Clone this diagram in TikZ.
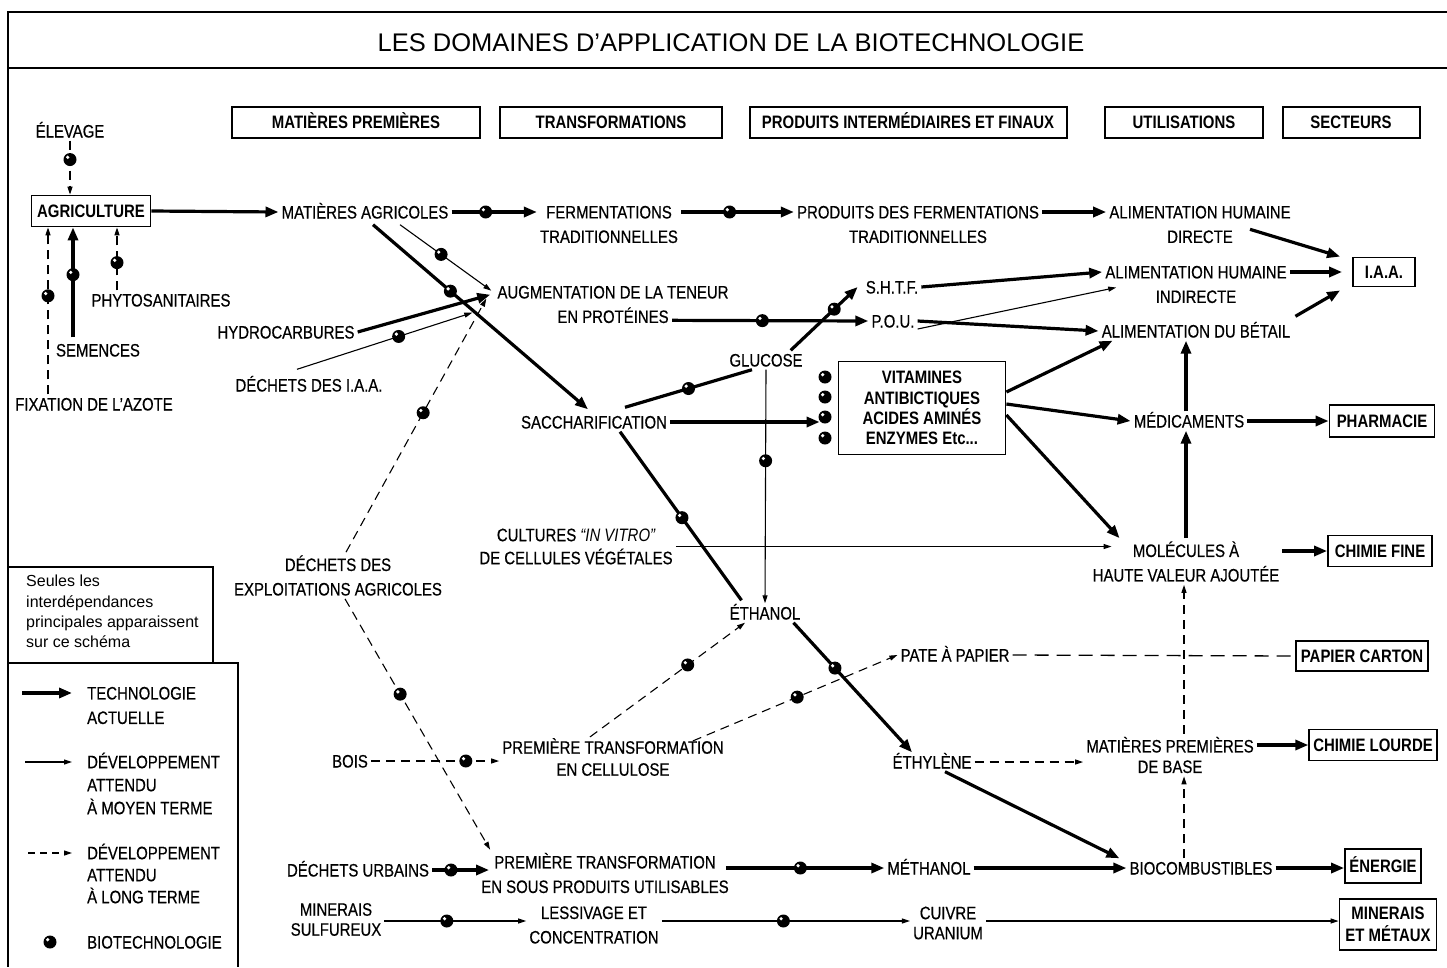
\documentclass[tikz,border=0pt]{standalone}
\usepackage{fontspec}
\setmainfont{Liberation Sans}[FakeStretch=0.83,UprightFeatures={FakeBold=0.5}]
\newfontfamily\plainsans{Liberation Sans}
\usetikzlibrary{arrows.meta,calc}
\begin{document}
\begin{tikzpicture}[x=1pt,y=-1pt,
  every node/.style={font=\fontsize{18pt}{24.5pt}\selectfont},
  lbl/.style={inner sep=3pt,text height=13pt,text depth=0pt},
  lbm/.style={inner sep=3pt,align=center},
  bx/.style={draw,line width=1.8pt,inner sep=4pt,align=center,font=\fontsize{18pt}{21pt}\selectfont\bfseries},
  hdr/.style={draw,line width=2pt,minimum height=31pt,inner sep=2pt,text height=13pt,text depth=0pt,font=\fontsize{18pt}{21pt}\selectfont\bfseries},
  thk/.style={line width=3.2pt,-{Triangle[length=13pt,width=10pt]}},
  thkl/.style={line width=3.2pt},
  thn/.style={line width=1.1pt,-{Triangle[length=8pt,width=5pt]}},
  dsh/.style={line width=1.1pt,dash pattern=on 9pt off 6pt,-{Triangle[length=8pt,width=5pt]}},
  dshl/.style={line width=1.3pt,dash pattern=on 14pt off 8pt},
  bul/.style={circle,fill=black,inner sep=0pt,minimum size=13pt,
    path picture={\fill[white] ([shift={(-2.3pt,2.3pt)}]path picture bounding box.center) circle (1.8pt);}},
  frame/.style={line width=2pt}
]
\useasboundingbox (0,0) rectangle (1447,967);
% frame
\draw[line width=2.6pt] (8,12) -- (1447,12);
\draw[line width=2.6pt] (8,68) -- (1447,68);
\draw[frame] (8,11) -- (8,967);
\node[font=\fontsize{25.5pt}{28pt}\plainsans] (title) at (731,43) {LES DOMAINES D’APPLICATION DE LA BIOTECHNOLOGIE};
% headers
\node[hdr,minimum width=248pt] (h1) at (356,122) {MATIÈRES PREMIÈRES};
\node[hdr,minimum width=222pt] (h2) at (611,122) {TRANSFORMATIONS};
\node[hdr,minimum width=317pt] (h3) at (908,122) {PRODUITS INTERMÉDIAIRES ET FINAUX};
\node[hdr,minimum width=158pt] (h4) at (1184,122) {UTILISATIONS};
\node[hdr,minimum width=137pt] (h5) at (1351,122) {SECTEURS};
% labels
\node[lbl] (elev) at (70,131) {ÉLEVAGE};
\node[bx,minimum width=119pt,minimum height=31pt,text height=13pt,text depth=0pt] (agri) at (91,211) {AGRICULTURE};
\node[lbl] (phyto) at (161,300) {PHYTOSANITAIRES};
\node[lbl] (sem) at (98,350) {SEMENCES};
\node[lbl] (fix) at (94,404) {FIXATION DE L’AZOTE};
\node[lbl] (hydro) at (286,332) {HYDROCARBURES};
\node[lbl] (diaa) at (309,385) {DÉCHETS DES I.A.A.};
\node[lbl] (matagr) at (365,212) {MATIÈRES AGRICOLES};
\node[lbm] (ferm) at (609,224.5) {FERMENTATIONS\\TRADITIONNELLES};
\node[lbm] (prodf) at (918,224.5) {PRODUITS DES FERMENTATIONS\\TRADITIONNELLES};
\node[lbm] (ahd) at (1200,224.5) {ALIMENTATION HUMAINE\\DIRECTE};
\node[lbl] (shtf) at (892,287) {S.H.T.F.};
\node[lbl] (pou) at (893,321) {P.O.U.};
\node[lbm] (ahi) at (1196,284.5) {ALIMENTATION HUMAINE\\INDIRECTE};
\node[lbl] (abet) at (1196,331) {ALIMENTATION DU BÉTAIL};
\node[bx,minimum width=62pt,minimum height=29pt,text height=13pt,text depth=0pt] (iaa) at (1384,272) {I.A.A.};
\node[lbm] (augm) at (613,304.5) {AUGMENTATION DE LA TENEUR\\EN PROTÉINES};
\node[lbl] (gluc) at (766,360) {GLUCOSE};
\node[lbl] (sacch) at (594,422) {SACCHARIFICATION};
\node[bx,minimum width=167pt,minimum height=93pt,font=\fontsize{18pt}{20.3pt}\selectfont\bfseries] (vit) at (922,408) {VITAMINES\\ANTIBICTIQUES\\ACIDES AMINÉS\\ENZYMES Etc...};
\node[bul] (v1) at (825,377) {};
\node[bul] (v2) at (825,397) {};
\node[bul] (v3) at (825,417) {};
\node[bul] (v4) at (825,438) {};
\node[lbl] (med) at (1189,421) {MÉDICAMENTS};
\node[bx,minimum width=105pt,minimum height=32pt,text height=13pt,text depth=0pt] (pharm) at (1382,421) {PHARMACIE};
\node[lbm] (mol) at (1186,561.5) {MOLÉCULES À\\HAUTE VALEUR AJOUTÉE};
\node[bx,minimum width=104pt,minimum height=31pt,text height=13pt,text depth=0pt] (cfine) at (1380,551) {CHIMIE FINE};
\node[lbm,font=\fontsize{18pt}{23pt}\selectfont] (cult) at (576,546.5) {CULTURES {\itshape “IN VITRO”}\\DE CELLULES VÉGÉTALES};
\node[lbm] (deea) at (338,575.5) {DÉCHETS DES\\EXPLOITATIONS AGRICOLES};
\node[lbl] (eth) at (765,613) {ÉTHANOL};
\node[lbl] (pate) at (955,655) {PATE À PAPIER};
\node[bx,minimum width=132pt,minimum height=30pt,text height=13pt,text depth=0pt] (pcarton) at (1362,656) {PAPIER CARTON};
\node[lbl] (bois) at (350,761) {BOIS};
\node[lbm,font=\fontsize{18pt}{22pt}\selectfont] (ptc) at (613,757) {PREMIÈRE TRANSFORMATION\\EN CELLULOSE};
\node[lbl] (ethy) at (932,762) {ÉTHYLÈNE};
\node[lbm,font=\fontsize{18pt}{20.5pt}\selectfont] (mpb) at (1170,755) {MATIÈRES PREMIÈRES\\DE BASE};
\node[bx,minimum width=127pt,minimum height=31pt,text height=13pt,text depth=0pt] (clourde) at (1373,745) {CHIMIE LOURDE};
\node[lbl] (durb) at (358,870) {DÉCHETS URBAINS};
\node[lbm] (pts) at (605,873) {PREMIÈRE TRANSFORMATION\\EN SOUS PRODUITS UTILISABLES};
\node[lbl] (meth) at (929,868) {MÉTHANOL};
\node[lbl] (bioc) at (1201,868) {BIOCOMBUSTIBLES};
\node[bx,minimum width=76pt,minimum height=34pt,text height=13pt,text depth=0pt] (energ) at (1383,866) {ÉNERGIE};
\node[lbm,font=\fontsize{18pt}{20pt}\selectfont] (minsulf) at (336,919.5) {MINERAIS\\SULFUREUX};
\node[lbm] (less) at (594,925) {LESSIVAGE ET\\CONCENTRATION};
\node[lbm,font=\fontsize{18pt}{20pt}\selectfont] (cuivre) at (948,923) {CUIVRE\\URANIUM};
\node[bx,minimum width=97pt,minimum height=51pt,font=\fontsize{18pt}{22pt}\selectfont\bfseries] (minmet) at (1388,924.5) {MINERAIS\\ET MÉTAUX};
\coordinate (row) at (0,921);
% connectors: agriculture
\draw[dsh] (elev.south) -- node[bul,pos=0.35](b1){} (elev.south |- agri.north);
\draw[dsh] ([shift={(-46,0)}]fix.north) -- node[bul,pos=0.59](b2){} ([shift={(-43,0)}]agri.south);
\draw[thk] ([shift={(-25,-3)}]sem.north) -- node[bul,pos=0.57](b3){} ([shift={(-18,0)}]agri.south);
\draw[dsh] ([shift={(-44,0)}]phyto.north) -- node[bul,pos=0.44](b4){} ([shift={(26,0)}]agri.south);
\draw[thk] (agri.east) -- (matagr.west);
% top row
\draw[thk] (matagr.east) -- node[bul,pos=0.4](b5){} (ferm.west |- matagr);
\draw[thk] (ferm.east |- matagr) -- node[bul,pos=0.43](b6){} (prodf.west |- matagr);
\draw[thk] (prodf.east |- matagr) -- (ahd.west |- matagr);
\draw[thk] ([shift={(50,-17)}]ahd.south) -- ([shift={(-12,0)}]iaa.north west);
\draw[thk] (shtf.east) -- (ahi.west |- iaa);
\draw[thk,shorten >=10pt] (ahi.east |- iaa) -- (iaa.west);
\draw[thk] ([shift={(2,-5)}]abet.north east) -- ([shift={(-12,3)}]iaa.south west);
\draw[thk] (pou.east) -- (abet.west);
\draw[thn] ([shift={(0,8)}]pou.east) -- ([shift={(14,3)}]ahi.west);
% proteins
\draw[thk] ([shift={(59,-6)}]augm.south) -- node[bul,pos=0.46](b7){} (pou.west);
\draw[thk] ([shift={(-15,0)}]gluc.north east) -- node[bul,pos=0.65](b8){} ([shift={(-5,0)}]shtf.west);
\draw[thk] ([shift={(8,3)}]matagr.south) -- node[bul,pos=0.36](b9){} ([shift={(-6,-3)}]sacch.north);
\draw[thn] ([shift={(35,3)}]matagr.south) -- node[bul,pos=0.45](b10){} ([shift={(-3,8)}]augm.north west);
\draw[thk] (hydro.east) -- ([shift={(-4,12)}]augm.north west);
\draw[thn] ([shift={(-12,-6)}]diaa.north) -- node[bul,pos=0.58](b11){} ([shift={(-22,30)}]augm.north west);
\draw[dsh] ([shift={(8,0)}]deea.north) -- node[bul,pos=0.55](b12){} ([shift={(-8,16)}]augm.north west);
% saccharification
\draw[thkl] ([shift={(31,-5)}]sacch.north) -- node[bul,pos=0.5](b13){} ([shift={(-14,0)}]gluc.south);
\draw[thk] (sacch.east) -- ($(vit.west |- sacch)+(-18,0)$);
\draw[thk] ([shift={(0,-16)}]vit.east) -- ([shift={(14,0)}]abet.south west);
\draw[thk] ([shift={(0,-4)}]vit.east) -- (med.west);
\draw[thk] ([shift={(0,7)}]vit.east) -- ([shift={(30,0)}]mol.north west);
\draw[thk] (med.east) -- (pharm.west);
\draw[thk] ([shift={(-3,0)}]med.north) -- ([shift={(-10,0)}]abet.south);
\draw[thk] (mol.north) -- (mol.north |- med.south);
\draw[thk] (mol.east |- cfine) -- (cfine.west);
\draw[thn] (cult.east) -- ($(mol.west |- cult.east)+(22,0)$);
\draw[thn] (gluc.south) -- node[bul,pos=0.39](b14){} (eth.north);
\draw[thkl] ([shift={(26,0)}]sacch.south) -- node[bul,pos=0.51](b15){} ([shift={(15,-3)}]eth.north west);
% ethanol
\draw[thk] ([shift={(-10,0)}]eth.south east) -- node[bul,pos=0.35](b16){} ([shift={(-20,0)}]ethy.north);
\draw[dsh] (ethy.east) -- (mpb.west |- ethy);
\draw[thk] (mpb.east |- clourde) -- (clourde.west);
\draw[thk] ([shift={(13,0)}]ethy.south) -- ([shift={(-7,0)}]bioc.north west);
\draw[thk] (bioc.east) -- (energ.west |- bioc);
\draw[dsh] ([shift={(-17,0)}]bioc.north) -- ([shift={(14,0)}]mpb.south);
\draw[dsh] ([shift={(14,0)}]mpb.north) -- ([shift={(-2,0)}]mol.south);
\draw[dshl] (pate.east) -- (pcarton.west);
% cellulose
\draw[dsh] ([shift={(-23,2)}]ptc.north) -- node[bul,pos=0.63](b17){} ([shift={(-20,0)}]eth.south);
\draw[dsh] ([shift={(-34,6)}]ptc.north east) -- node[bul,pos=0.51](b18){} (pate.west);
\draw[dsh] (bois.east) -- node[bul,pos=0.74](b19){} (ptc.west |- bois);
\draw[dsh] ([shift={(7,0)}]deea.south) -- node[bul,pos=0.38](b20){} ([shift={(12,0)}]pts.north west);
% bottom rows
\draw[thk] (durb.east) -- node[bul,pos=0.33](b21){} ($(pts.west |- durb)+(11,0)$);
\draw[thk] ($(pts.east |- meth)+(-6,0)$) -- node[bul,pos=0.47](b22){} (meth.west);
\draw[thk] (meth.east) -- (bioc.west);
\draw[thn] (minsulf.east |- row) -- node[bul,pos=0.44](b23){} (less.west |- row);
\draw[thn] (less.east |- row) -- node[bul,pos=0.49](b24){} (cuivre.west |- row);
\draw[thn] (cuivre.east |- row) -- (minmet.west |- row);
% note and legend
\draw[frame] (8,567) -- (213,567) -- (213,663);
\draw[frame] (8,663) -- (238,663) -- (238,967);
\node[anchor=north west,align=left,inner sep=0pt,font=\fontsize{16pt}{20.3pt}\plainsans] (note) at (26,575) {Seules les\\interdépendances\\principales apparaissent\\sur ce schéma};
\coordinate (lga) at (22,693); \coordinate (lgb) at (72,693);
\draw[thk] (lga) -- (lgb);
\node[lbm,align=left,anchor=west] (lgt1) at (84,705.5) {TECHNOLOGIE\\ACTUELLE};
\coordinate (lgc) at (25,762); \coordinate (lgd) at (72,762);
\draw[thn] (lgc) -- (lgd);
\node[lbm,align=left,anchor=west,font=\fontsize{18pt}{23pt}\selectfont] (lgt2) at (84,783.5) {DÉVELOPPEMENT\\ATTENDU\\À MOYEN TERME};
\coordinate (lge) at (28,853); \coordinate (lgf) at (72,853);
\draw[dsh,dash pattern=on 7pt off 5pt] (lge) -- (lgf);
\node[lbm,align=left,anchor=west,font=\fontsize{18pt}{22pt}\selectfont] (lgt3) at (84,873.5) {DÉVELOPPEMENT\\ATTENDU\\À LONG TERME};
\node[bul] (lgb4) at (50,942) {};
\node[lbl,anchor=west] (lgt4) at (84,942) {BIOTECHNOLOGIE};
\end{tikzpicture}
\end{document}
